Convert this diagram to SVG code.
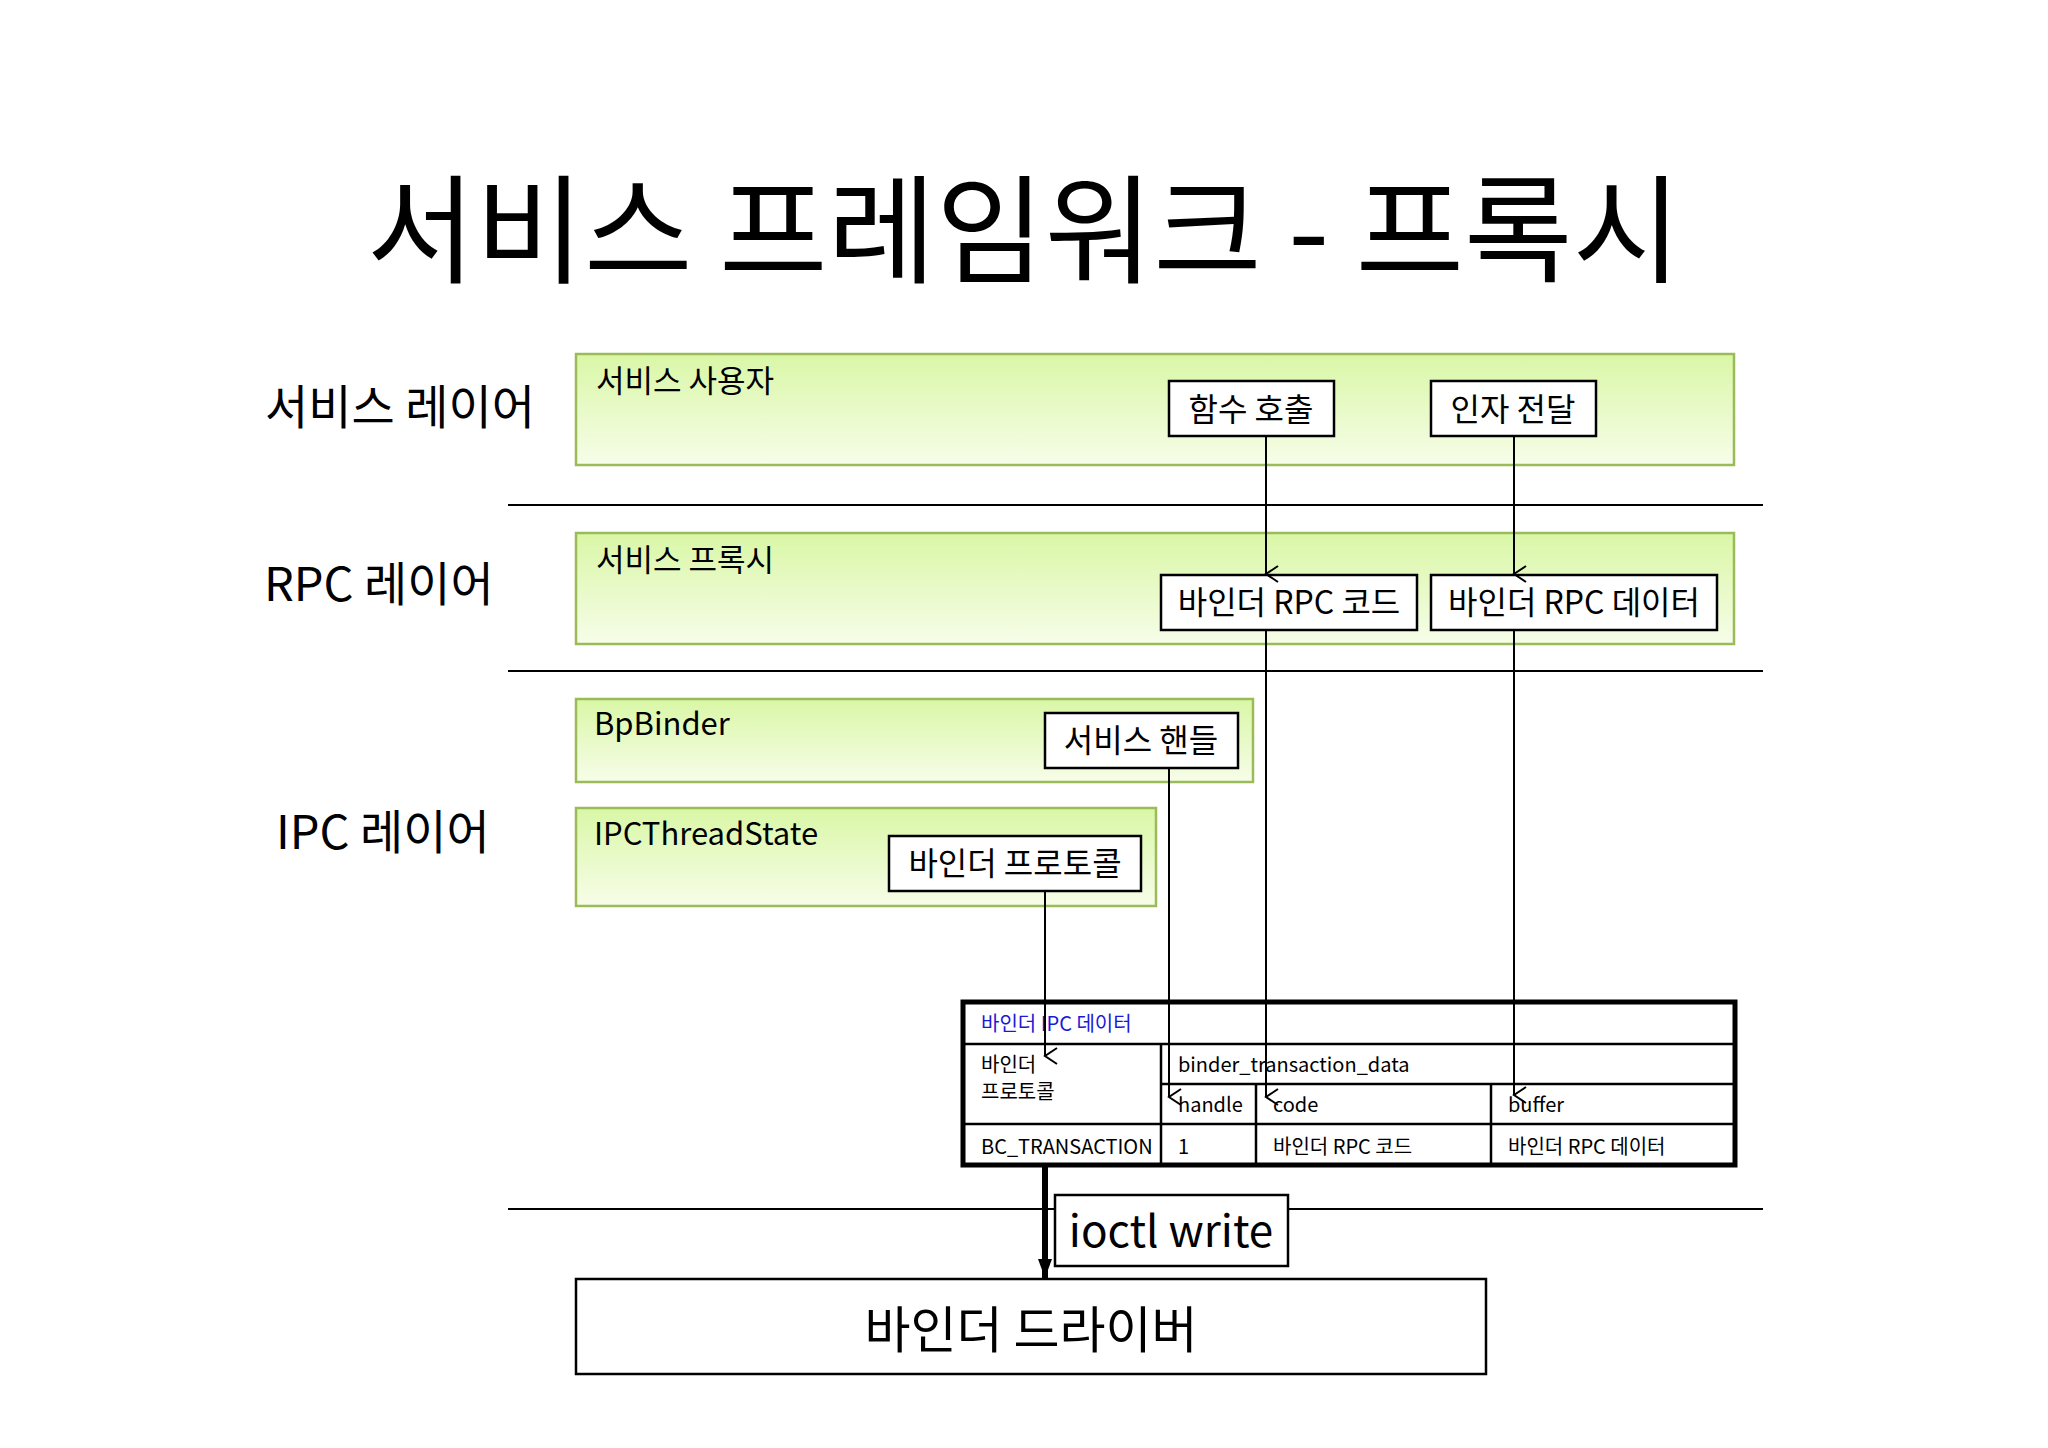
<svg xmlns="http://www.w3.org/2000/svg" width="2048" height="1448" viewBox="0 0 2048 1448">
<defs>
<linearGradient id="g" x1="0" y1="0" x2="0" y2="1"><stop offset="0" stop-color="#d9f7a6"/><stop offset="1" stop-color="#f7fde9"/></linearGradient>
<marker id="a" viewBox="0 0 20 20" refX="10" refY="18" markerWidth="20" markerHeight="20" markerUnits="userSpaceOnUse" orient="auto-start-reverse"><path d="M2,6 L10,18 L18,6" fill="none" stroke="#000" stroke-width="2"/></marker>
<marker id="b" viewBox="0 0 20 20" refX="10" refY="19" markerWidth="20" markerHeight="20" markerUnits="userSpaceOnUse"><path d="M3,0 L10,19 L17,0 Z" fill="#000"/></marker>
<style>
text{font-family:"Noto Sans CJK KR","Noto Sans",sans-serif;fill:#000}
.grn{fill:url(#g);stroke:#9bbb59;stroke-width:2.5}
.wb{fill:#fff;stroke:#000;stroke-width:2.5}
.lbl{font-size:31px}
.bt{font-size:32px;text-anchor:middle}
.lay{font-size:47px}
.sep{stroke:#000;stroke-width:2}
.t{font-size:20px}
.ln{stroke:#000;stroke-width:2.5;fill:none}
.ar{stroke:#000;stroke-width:2;fill:none;marker-end:url(#a)}
</style>
</defs>
<rect width="2048" height="1448" fill="#fff"/>
<text x="1024" y="274" font-size="118" text-anchor="middle">서비스 프레임워크 - 프록시</text>
<g id="layers">
<text class="lay" x="265" y="424">서비스 레이어</text>
<text class="lay" x="264" y="601">RPC 레이어</text>
<text class="lay" x="276" y="849">IPC 레이어</text>
<line class="sep" x1="508" y1="505" x2="1763" y2="505"/>
<line class="sep" x1="508" y1="671" x2="1763" y2="671"/>
<line class="sep" x1="508" y1="1209" x2="1763" y2="1209"/>
</g>
<g id="svcuser"><rect class="grn" x="576" y="354" width="1158" height="111"/><text class="lbl" x="596" y="392">서비스 사용자</text></g>
<g id="svcproxy"><rect class="grn" x="576" y="533" width="1158" height="111"/><text class="lbl" x="596" y="571">서비스 프록시</text></g>
<g id="bpbinder"><rect class="grn" x="576" y="699" width="677" height="83"/><text class="lbl" x="594" y="735">BpBinder</text></g>
<g id="ipcts"><rect class="grn" x="576" y="808" width="580" height="98"/><text class="lbl" x="594" y="845">IPCThreadState</text></g>
<g id="call"><rect class="wb" x="1169" y="381" width="165" height="55"/><text class="bt" x="1251" y="421">함수 호출</text></g>
<g id="arg"><rect class="wb" x="1431" y="381" width="165" height="55"/><text class="bt" x="1513" y="421">인자 전달</text></g>
<g id="rpccode"><rect class="wb" x="1161" y="575" width="256" height="55"/><text class="bt" x="1289" y="614">바인더 RPC 코드</text></g>
<g id="rpcdata"><rect class="wb" x="1431" y="575" width="286" height="55"/><text class="bt" x="1574" y="614">바인더 RPC 데이터</text></g>
<g id="handle"><rect class="wb" x="1045" y="713" width="193" height="55"/><text class="bt" x="1141" y="752">서비스 핸들</text></g>
<g id="proto"><rect class="wb" x="889" y="836" width="252" height="55"/><text class="bt" x="1015" y="875">바인더 프로토콜</text></g>
<g id="table">
<rect x="963" y="1002" width="772" height="163" fill="#fff" stroke="#000" stroke-width="5"/>
<line class="ln" x1="963" y1="1044" x2="1735" y2="1044"/>
<line class="ln" x1="1161" y1="1084" x2="1735" y2="1084"/>
<line class="ln" x1="963" y1="1124" x2="1735" y2="1124"/>
<line class="ln" x1="1161" y1="1044" x2="1161" y2="1165"/>
<line class="ln" x1="1256" y1="1084" x2="1256" y2="1165"/>
<line class="ln" x1="1491" y1="1084" x2="1491" y2="1165"/>
<text class="t" x="981" y="1031" fill="#1a1ad6" style="fill:#1a1ad6">바인더 IPC 데이터</text>
<text class="t" x="981" y="1072">바인더</text>
<text class="t" x="981" y="1099">프로토콜</text>
<text class="t" x="1178" y="1072">binder_transaction_data</text>
<text class="t" x="1178" y="1112">handle</text>
<text class="t" x="1273" y="1112">code</text>
<text class="t" x="1508" y="1112">buffer</text>
<text class="t" x="981" y="1154">BC_TRANSACTION</text>
<text class="t" x="1178" y="1154">1</text>
<text class="t" x="1273" y="1154">바인더 RPC 코드</text>
<text class="t" x="1508" y="1154">바인더 RPC 데이터</text>
</g>
<g id="ioctl"><rect class="wb" x="1055" y="1195" width="233" height="71"/><text x="1171" y="1247" font-size="44" text-anchor="middle">ioctl write</text></g>
<g id="driver"><rect class="wb" x="576" y="1279" width="910" height="95"/><text x="1031" y="1348" font-size="50" text-anchor="middle">바인더 드라이버</text></g>
<g id="connectors">
<line class="ar" x1="1266" y1="436" x2="1266" y2="574"/>
<line class="ar" x1="1514" y1="436" x2="1514" y2="574"/>
<line class="ar" x1="1266" y1="630" x2="1266" y2="1097"/>
<line class="ar" x1="1514" y1="630" x2="1514" y2="1095"/>
<line class="ar" x1="1169" y1="768" x2="1169" y2="1097"/>
<line class="ar" x1="1045" y1="891" x2="1045" y2="1056"/>
<line x1="1045" y1="1165" x2="1045" y2="1278" stroke="#000" stroke-width="6" marker-end="url(#b)"/>
</g>
</svg>
